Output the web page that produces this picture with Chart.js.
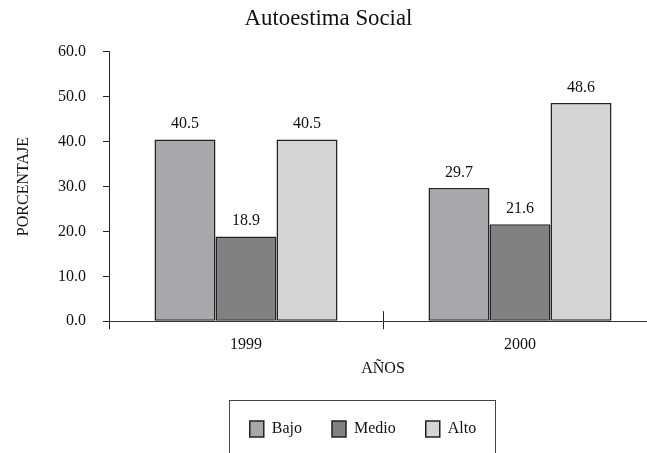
<!DOCTYPE html>
<html>
<head>
<meta charset="utf-8">
<script src="https://cdn.jsdelivr.net/npm/chart.js@4"></script>
<style>
  html, body { margin: 0; padding: 0; background: #fff; overflow: hidden; width: 647px; height: 453px; }
  canvas { display: block; }
</style>
</head>
<body>
<canvas id="chart" width="670" height="453"></canvas>
<script>
// Social self-esteem by year (percentages)
const years = ['1999', '2000'];
const levels = ['Bajo', 'Medio', 'Alto'];
const bajo = [40.5, 29.7];
const medio = [18.9, 21.6];
const alto = [40.5, 48.6];
const yTicks = [0, 10, 20, 30, 40, 50, 60];

const fills = ['#a7a8ac', '#808183', '#d4d5d7'];
const edge = '#222222';
const serif = '"Liberation Serif", "Times New Roman", serif';

// Value printed above every bar
const valueLabels = {
  id: 'valueLabels',
  afterDatasetsDraw(chart) {
    const ctx = chart.ctx;
    ctx.save();
    ctx.font = '16px ' + serif;
    ctx.fillStyle = '#111';
    ctx.textAlign = 'center';
    ctx.textBaseline = 'alphabetic';
    chart.data.datasets.forEach((ds, di) => {
      chart.getDatasetMeta(di).data.forEach((bar, i) => {
        ctx.fillText(ds.data[i].toFixed(1), bar.x, bar.y - 11);
      });
    });
    ctx.restore();
  }
};

// Category separators crossing the x axis, and a frame around the legend
const decorations = {
  id: 'decorations',
  afterLayout(chart) {
    const lg = chart.legend;
    const area = chart.chartArea;
    const target = (area.left + area.right) / 2 - 20;
    const dx = target - (lg.left + lg.right) / 2;
    lg.left += dx;
    lg.right += dx;
  },
  afterDraw(chart) {
    const ctx = chart.ctx;
    const xs = chart.scales.x;
    ctx.save();
    ctx.strokeStyle = edge;
    ctx.lineWidth = 1;
    for (let i = 1; i < years.length; i++) {
      const x = Math.round((xs.getPixelForTick(i - 1) + xs.getPixelForTick(i)) / 2) + 0.5;
      ctx.beginPath();
      ctx.moveTo(x, xs.top - 10);
      ctx.lineTo(x, xs.top);
      ctx.stroke();
    }
    const boxes = chart.legend.legendHitBoxes;
    if (boxes && boxes.length) {
      const first = boxes[0];
      const last = boxes[boxes.length - 1];
      const l = Math.round(first.left - 21) + 0.5;
      const r = Math.round(last.left + last.width + 19) + 0.5;
      const t = Math.round(first.top - 21) + 0.5;
      ctx.strokeStyle = '#444';
      ctx.strokeRect(l, t, r - l, chart.height - t + 10);
    }
    ctx.restore();
  }
};

const makeSet = (label, data, i) => ({
  label,
  data,
  backgroundColor: fills[i],
  borderColor: edge,
  borderWidth: 1.5,
  borderSkipped: false,
  categoryPercentage: 0.668,
  barPercentage: 1.0
});

new Chart(document.getElementById('chart'), {
  type: 'bar',
  data: {
    labels: years,
    datasets: [
      makeSet(levels[0], bajo, 0),
      makeSet(levels[1], medio, 1),
      makeSet(levels[2], alto, 2)
    ]
  },
  options: {
    responsive: false,
    animation: false,
    layout: { padding: { left: 0, right: 13, top: 0, bottom: 6 } },
    plugins: {
      title: {
        display: true,
        text: 'Autoestima Social',
        color: '#111',
        font: { family: serif, size: 22.8, weight: 'normal' },
        padding: { top: 5, bottom: 19.6 }
      },
      legend: {
        position: 'bottom',
        labels: {
          color: '#111',
          font: { family: serif, size: 16 },
          boxWidth: 14,
          boxHeight: 16,
          padding: 30
        }
      },
      tooltip: { enabled: false }
    },
    scales: {
      x: {
        grid: {
          display: true,
          drawOnChartArea: false,
          drawTicks: true,
          tickLength: 8,
          color: edge,
          offset: true
        },
        border: { display: true, color: '#333', width: 1 },
        ticks: {
          color: '#111',
          font: { family: serif, size: 16 },
          padding: 6
        },
        title: {
          display: true,
          text: 'AÑOS',
          color: '#111',
          font: { family: serif, size: 16, lineHeight: 1 },
          padding: { top: 0, bottom: 14.6 }
        }
      },
      y: {
        min: 0,
        max: 60,
        afterBuildTicks(scale) {
          scale.ticks = yTicks.map(v => ({ value: v }));
        },
        afterFit(scale) {
          scale.width = 109;
        },
        grid: {
          display: true,
          drawOnChartArea: false,
          drawTicks: true,
          tickLength: 6,
          color: edge
        },
        border: { display: true, color: edge, width: 1 },
        ticks: {
          color: '#111',
          font: { family: serif, size: 16 },
          padding: 17,
          callback: v => Number(v).toFixed(1)
        },
        title: {
          display: true,
          text: 'PORCENTAJE',
          color: '#111',
          font: { family: serif, size: 16 },
          padding: { top: 14, bottom: 0 }
        }
      }
    }
  },
  plugins: [valueLabels, decorations]
});
</script>
</body>
</html>
